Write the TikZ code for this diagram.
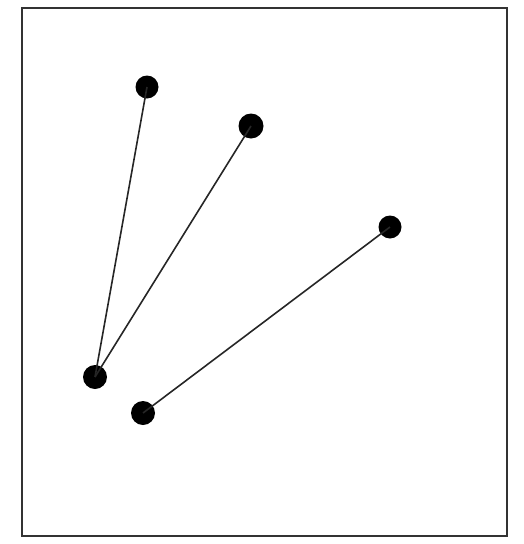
\documentclass[tikz,border=0pt]{standalone}
\begin{document}
\begin{tikzpicture}[x=1pt,y=-1pt,
  dot/.style={circle,fill=black,inner sep=0pt,minimum size=21pt},
  link/.style={draw=black!85,line width=1.6pt},
  frame/.style={draw=black!80,line width=2.6pt}]
\useasboundingbox (0,0) rectangle (524,544);
\draw[frame] (22,8) rectangle (507,536);
\node[dot,minimum width=23pt] (a) at (147,87) {};
\node[dot,minimum width=25pt] (b) at (251,126) {};
\node[dot,minimum width=23pt] (c) at (390,227) {};
\node[dot,minimum width=24pt] (d) at (95,377) {};
\node[dot,minimum width=24pt] (e) at (143,413) {};
\draw[link] (d.center) -- (a.center);
\draw[link] (d.center) -- (b.center);
\draw[link] (e.center) -- (c.center);
\end{tikzpicture}
\end{document}
